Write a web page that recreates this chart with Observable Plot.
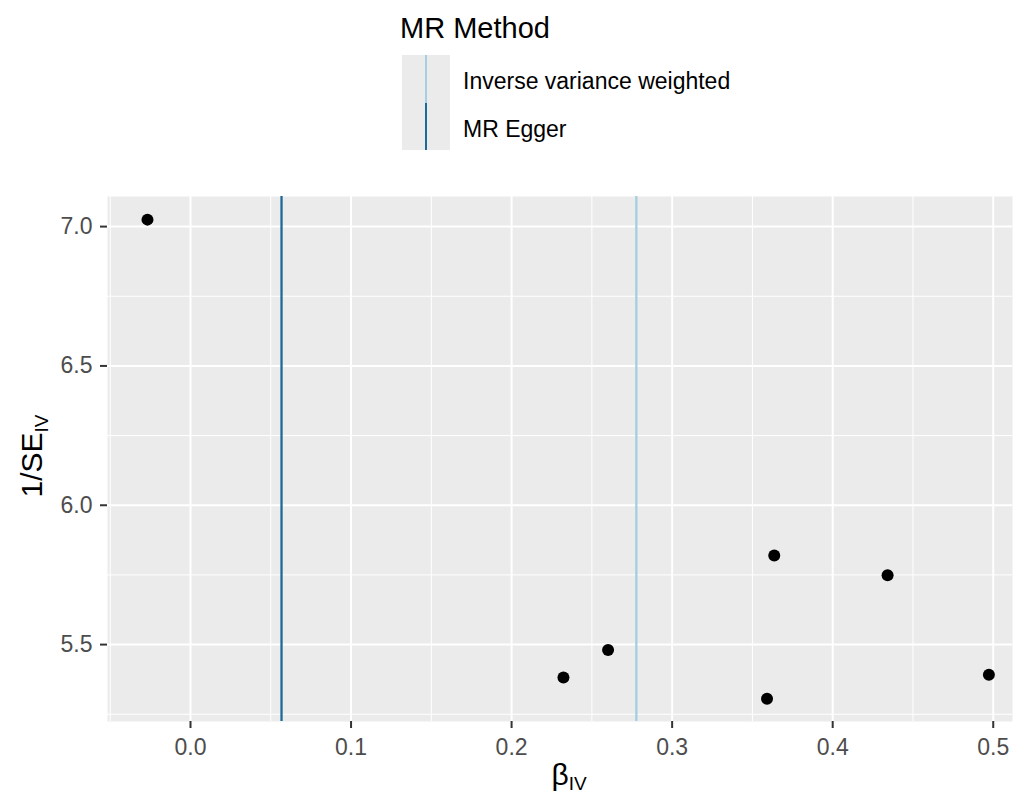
<!DOCTYPE html>
<html><head><meta charset="utf-8">
<script src="https://cdn.jsdelivr.net/npm/d3@7"></script>
<script src="https://cdn.jsdelivr.net/npm/@observablehq/plot@0.6"></script>
<style>
body{margin:0;background:#fff;font-family:"Liberation Sans",Arial,sans-serif;}
#wrap{position:relative;width:1019px;height:796px;overflow:hidden;background:#fff;}
#legend{position:absolute;left:0;top:0;width:1019px;height:168px;}
.lg-title{position:absolute;left:400px;top:13.5px;font-size:29px;line-height:29px;color:#000;white-space:nowrap;}
.lg-label{position:absolute;left:463px;font-size:23px;line-height:23px;color:#000;white-space:nowrap;}
.lg-key{position:absolute;left:402px;width:48px;height:47.5px;background:#EBEBEB;}
.lg-line{position:absolute;left:23px;top:0;width:2px;height:100%;}
#chart{position:absolute;left:0;top:168px;}
</style></head>
<body><div id="wrap"><div id="legend"></div><div id="chart"></div></div>
<script>
// Data
const beta = [-0.0268, 0.2323, 0.2601, 0.3636, 0.3591, 0.4342, 0.4973];
const invSE = [7.025, 5.382, 5.481, 5.8195, 5.306, 5.749, 5.392];
const methods = ["Inverse variance weighted", "MR Egger"];
const methodEstimates = [0.2777, 0.0567];
const methodColors = ["#A6CEE3", "#1D6A98"];
const xTicks = [0, 0.1, 0.2, 0.3, 0.4, 0.5];
const yTicks = [5.5, 6.0, 6.5, 7.0];
const xMinor = [-0.05, 0.05, 0.15, 0.25, 0.35, 0.45];
const yMinor = [5.25, 5.75, 6.25, 6.75];
const legendTitle = "MR Method";

const points = beta.map((b, i) => ({beta: b, invSE: invSE[i]}));
const lines = methods.map((m, i) => ({method: m, b: methodEstimates[i]}));
const fmt = d3.format(".1f");

const plot = Plot.plot({
  width: 1019, height: 628,
  marginTop: 28, marginBottom: 75, marginLeft: 107, marginRight: 7,
  style: {fontFamily: "'Liberation Sans', Arial, sans-serif", fontSize: "23px", background: "transparent"},
  x: {domain: [-0.0517, 0.512]},
  y: {domain: [5.224, 7.108]},
  color: {domain: methods, range: methodColors},
  marks: [
    Plot.frame({fill: "#EBEBEB", stroke: "none"}),
    Plot.ruleX(xMinor, {stroke: "#fff", strokeWidth: 1}),
    Plot.ruleY(yMinor, {stroke: "#fff", strokeWidth: 1}),
    Plot.ruleX(xTicks, {stroke: "#fff", strokeWidth: 2}),
    Plot.ruleY(yTicks, {stroke: "#fff", strokeWidth: 2}),
    Plot.ruleX(lines, {x: "b", stroke: "method", strokeWidth: 2.3}),
    Plot.dot(points, {x: "beta", y: "invSE", r: 6, fill: "#000", stroke: "none"}),
    Plot.axisX({ticks: xTicks, tickFormat: fmt, tickSize: 7, tickPadding: 10, stroke: "#333", strokeWidth: 2, fill: "#4D4D4D", label: null}),
    Plot.axisY({ticks: yTicks, tickFormat: fmt, tickSize: 7, tickPadding: 8, stroke: "#333", strokeWidth: 2, fill: "#4D4D4D", label: null})
  ]
});

const svg = d3.select(plot);
// y axis title: 1/SE_IV
const yt = svg.append("text")
  .attr("transform", "translate(42,288) rotate(-90)")
  .attr("text-anchor", "middle")
  .attr("fill", "#000")
  .style("font-size", "30px");
yt.append("tspan").text("1/SE");
yt.append("tspan").attr("dy", 6).style("font-size", "19px").text("IV");
// x axis title: beta_IV
const xt = svg.append("text")
  .attr("transform", "translate(569,617)")
  .attr("text-anchor", "middle")
  .attr("fill", "#000")
  .style("font-size", "30px");
xt.append("tspan").text("β");
xt.append("tspan").attr("dy", 5).style("font-size", "19px").text("IV");

document.getElementById("chart").appendChild(plot);

// legend
const lg = document.getElementById("legend");
const t = document.createElement("div");
t.className = "lg-title"; t.textContent = legendTitle; lg.appendChild(t);
const labelTops = [69.5, 117.5];
methods.forEach((m, i) => {
  const k = document.createElement("div");
  k.className = "lg-key"; k.style.top = (55 + i * 47.5) + "px";
  const ln = document.createElement("div");
  ln.className = "lg-line"; ln.style.background = methodColors[i];
  k.appendChild(ln); lg.appendChild(k);
  const l = document.createElement("div");
  l.className = "lg-label"; l.style.top = labelTops[i] + "px"; l.textContent = m;
  lg.appendChild(l);
});
</script>
</body></html>
